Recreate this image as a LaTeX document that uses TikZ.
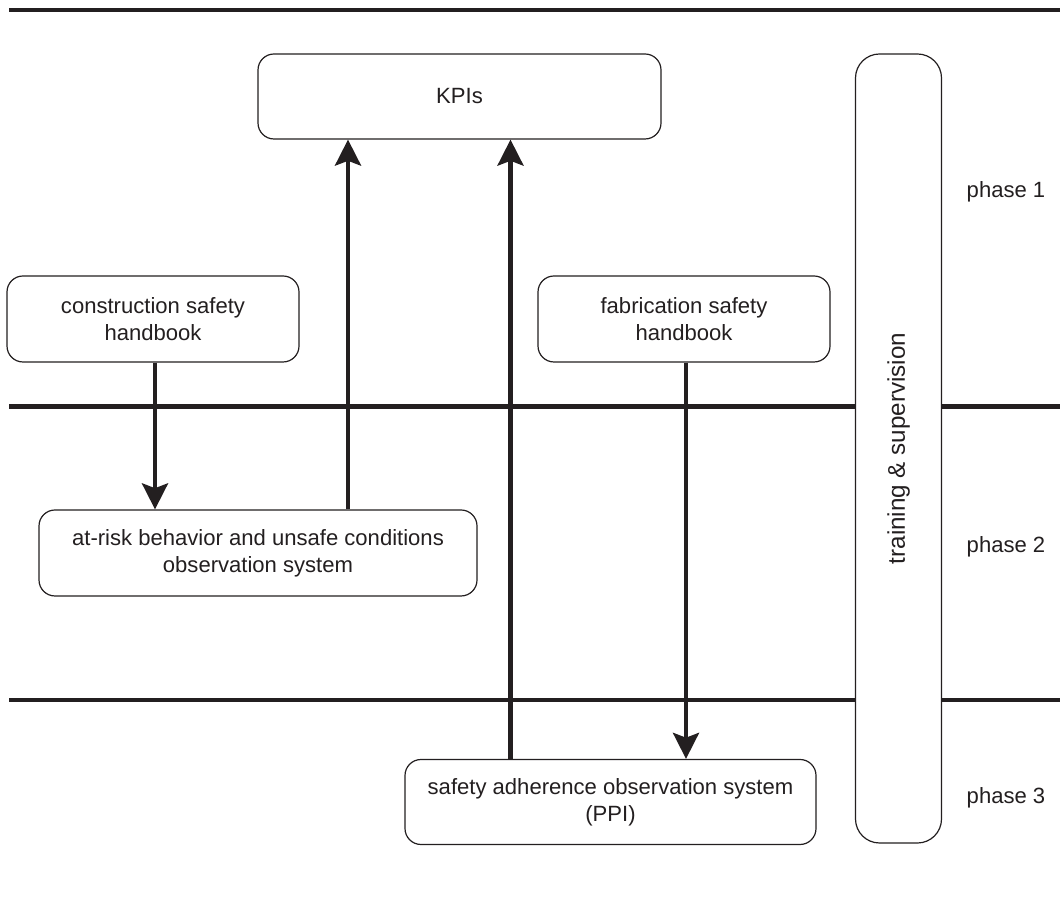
\documentclass[tikz,border=0pt]{standalone}
\usepackage{fontspec}
\setmainfont{Liberation Sans}
\usetikzlibrary{positioning,arrows.meta,calc}
\definecolor{ink}{RGB}{35,31,32}

\begin{document}
\begin{tikzpicture}[
    box/.style={rectangle, draw=ink, line width=0.85pt, rounded corners=0.4cm, fill=white, align=center, text=ink, font=\fontsize{15.7}{19}\selectfont},
    tallbox/.style={box, rounded corners=0.6cm, font=\fontsize{17.2}{20}\selectfont},
    arrow/.style={-{Stealth[length=0.65cm, width=0.65cm, inset=0.12cm]}, line width=3pt, draw=ink},
    divider/.style={line width=3.3pt, draw=ink},
    phase/.style={text=ink, font=\fontsize{15.7}{19}\selectfont},
]
\useasboundingbox (0,0) rectangle (26.5,22.6);

% ====== Phase dividers ======
\draw[divider] (0.225,22.35) -- (26.5,22.35);
\draw[divider] (0.225,12.4375) -- (26.5,12.4375);
\draw[divider] (0.225,5.1) -- (26.5,5.1);

% ====== Phase 1 ======
\node[box, minimum width=10.075cm, minimum height=2.125cm] (kpi) at (11.4875, 20.1875) {KPIs};
\node[box, minimum width=7.3cm, minimum height=2.15cm] (hbCon) at (3.825, 14.625) {construction safety\\handbook};
\node[box, minimum width=7.3cm, minimum height=2.15cm] (hbFab) at (17.1, 14.625) {fabrication safety\\handbook};

% ====== Phase 2 ======
\node[box, minimum width=10.95cm, minimum height=2.15cm] (obsRisk) at (6.45, 8.775) {at-risk behavior and unsafe conditions\\observation system};

% ====== Phase 3 ======
\node[box, minimum width=10.275cm, minimum height=2.125cm] (obsPPI) at (15.2625, 2.55) {safety adherence observation system\\(PPI)};

% ====== Training (all phases) ======
\node[tallbox, rotate=90, minimum width=19.725cm, minimum height=2.15cm] (train) at (22.4625, 11.3875) {training \& supervision};

% ====== Flows ======
\draw[arrow] ([xshift=0.05cm]hbCon.south) -- ([xshift=0.05cm]hbCon.south |- obsRisk.north);
\draw[arrow] ([xshift=2.25cm]obsRisk.north) -- ([xshift=2.25cm]obsRisk.north |- kpi.south);
\draw[arrow] ([xshift=-2.5cm]obsPPI.north) -- ([xshift=-2.5cm]obsPPI.north |- kpi.south);
\draw[arrow] ([xshift=0.05cm]hbFab.south) -- ([xshift=0.05cm]hbFab.south |- obsPPI.north);

% ====== Phase labels ======
\node[phase] (ph1) at (25.15, 17.8) {phase 1};
\node[phase] (ph2) at (25.15, 8.925) {phase 2};
\node[phase] (ph3) at (25.15, 2.65) {phase 3};

\end{tikzpicture}
\end{document}
